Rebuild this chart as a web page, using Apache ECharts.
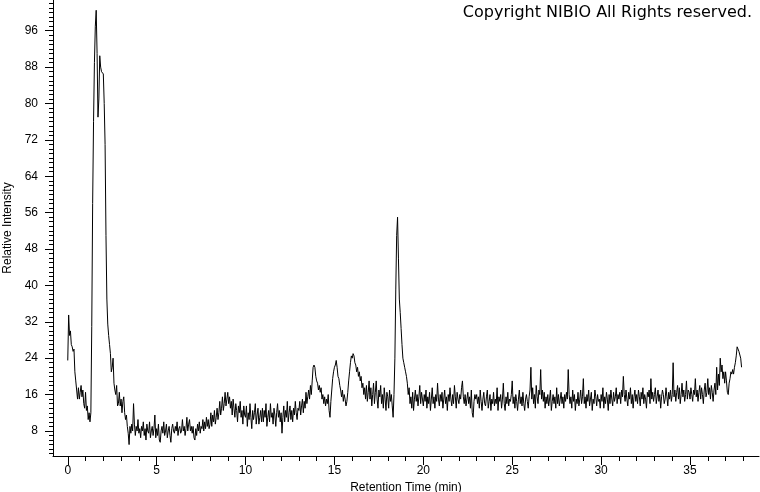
<!DOCTYPE html>
<html>
<head>
<meta charset="utf-8">
<script src="https://cdn.jsdelivr.net/npm/echarts@6.0.0/dist/echarts.min.js"></script>
<style>
html,body{margin:0;padding:0;background:#fff;}
#chart{width:760px;height:492px;}
</style>
</head>
<body>
<div id="chart"></div>
<script>
// Retention time axis: labelled ticks and minor ticks (min)
const xTickLabels = [0, 5, 10, 15, 20, 25, 30, 35];
const xMinorTicks = [0,1,2,3,4,5,6,7,8,9,10,11,12,13,14,15,16,17,18,19,20,21,22,23,24,25,26,27,28,29,30,31,32,33,34,35,36,37,38];
// Relative intensity axis: labelled ticks and minor ticks
const yTickLabels = [8, 16, 24, 32, 40, 48, 56, 64, 72, 80, 88, 96];
const yMinorTicks = [3,4,5,6,7,8,9,10,11,12,13,14,15,16,17,18,19,20,21,22,23,24,25,26,27,28,29,30,31,32,33,34,35,36,37,38,39,40,41,42,43,44,45,46,47,48,49,50,51,52,53,54,55,56,57,58,59,60,61,62,63,64,65,66,67,68,69,70,71,72,73,74,75,76,77,78,79,80,81,82,83,84,85,86,87,88,89,90,91,92,93,94,95,96,97,98,99,100,101,102];

// Sampling of the trace (min)
const sampleStart = 0;
const sampleStep = 0.05;
// Relative intensity, one row per minute (0.00 ... 0.95)
const intensity = [
  23.5, 33.5, 29, 30, 27, 26.5, 25.5, 26, 21, 19, 17, 15, 17.5, 15, 16.5, 18, 15.5, 17, 14, 13,
  16.5, 12.5, 13.5, 10.5, 12, 10, 12, 31, 58, 76, 89, 97, 100.5, 91, 77, 81, 90.5, 88, 87, 87,
  86.5, 80, 71, 51, 37, 31.5, 29, 27, 25, 21, 22, 24, 18.5, 17, 16, 18, 13.5, 14, 16.5, 13.5,
  15, 12, 14.5, 15.5, 12, 10.5, 11.5, 9, 7.5, 5, 9, 7.5, 9.5, 8, 14, 9.5, 7, 9, 8, 10.5,
  7.5, 8.5, 6.5, 9, 8, 10, 7, 8.5, 6, 9.5, 8, 7.5, 10, 6.5, 8, 9, 7, 8.5, 11.5, 6.5,
  8.5, 7, 9.5, 6, 5.5, 8, 9, 7.5, 10, 7, 8, 9.5, 6.5, 8, 9, 7, 5.5, 8.5, 9.5, 8,
  7.5, 9, 8, 10, 7, 8.5, 9, 7.5, 8, 10.5, 8, 9, 7, 8.5, 11, 8, 9.5, 10.5, 8, 9,
  7.5, 9, 6.5, 6, 8.5, 7, 9.5, 8, 10, 7.5, 9, 8.5, 10.5, 8, 10, 8.5, 11, 9, 10.5, 8.5,
  9.5, 12, 9, 11.5, 10, 12.5, 9.5, 11, 13, 10.5, 12, 14.5, 11.5, 13, 15.5, 12.5, 14, 16.5, 13.5, 15,
  16.5, 14, 15.5, 13, 14.5, 11.5, 15, 13, 11, 14, 12.5, 10, 13.5, 12, 14.5, 11, 12.5, 9.5, 13.5, 11.5,
  11, 13.5, 9, 12, 10.5, 14, 11, 8.5, 12.5, 10.5, 12, 14, 9.5, 11.5, 13, 9.5, 11, 12.5, 10, 13,
  10, 12.5, 11, 14, 9, 11, 12.5, 10, 14, 11, 12, 9.5, 13, 11.5, 9, 12, 14, 11, 12.5, 10,
  12, 7.5, 11, 13.5, 10, 12.5, 11, 14.5, 10, 12, 13.5, 10.5, 12.5, 10, 13, 11.5, 14.5, 12, 10.5, 13,
  12.5, 14.5, 11.5, 13.5, 15, 12, 14.5, 13, 16.5, 14, 15.5, 17, 15, 18, 16, 19, 22, 22.5, 22, 20,
  19, 18.5, 17, 18, 16.5, 17.5, 15, 16, 14, 15.5, 13.5, 15, 14, 16, 12.5, 11, 14.5, 17, 19.5, 21,
  22, 22.5, 23.5, 22, 20, 19.5, 18, 17, 15.5, 17, 14.5, 16, 15, 13.5, 14.5, 16.5, 19, 21, 23, 24.5,
  24, 25, 24.5, 23, 22.5, 21, 22, 20, 21, 19, 20, 17.5, 18.5, 16, 17.5, 15, 18, 14.5, 16.5, 19,
  15, 17.5, 13.5, 16, 18.5, 14, 16.5, 19, 15, 13, 17, 15.5, 18, 14, 16, 13, 17.5, 15, 12.5, 16.5,
  15.5, 13, 17, 14.5, 16, 13.5, 11, 16, 24, 39, 51, 55, 46, 37, 34, 30.5, 27, 24, 23, 22,
  21, 20, 18.5, 16, 17.5, 14, 15.5, 13, 16.5, 12.5, 15, 17, 14.5, 16, 13.5, 15.5, 18, 14, 16.5, 15,
  13.5, 16, 14.5, 17, 13, 15.5, 14, 16.5, 12.5, 15, 17.5, 14, 15.5, 13, 16, 14.5, 18.5, 15, 13.5, 16,
  14.5, 16.5, 13, 15, 17, 14, 15.5, 12.5, 16, 14.5, 17.5, 15, 13.5, 16, 14, 18, 15.5, 13, 16.5, 15,
  14, 16, 15, 17.5, 19, 15.5, 14, 16, 13.5, 15, 16.5, 14, 15.5, 13, 17, 12, 11, 14.5, 16, 15,
  16, 14, 15.5, 13, 17, 14.5, 12.5, 15, 16.5, 14, 13.5, 15.5, 17, 13, 14.5, 16, 12.5, 15, 14, 16.5,
  13.5, 15, 14, 17.5, 12.5, 15.5, 14.5, 16, 13, 15, 18.5, 14, 12.5, 15.5, 14, 16.5, 13.5, 15, 14.5, 16,
  19, 14, 15.5, 13, 16, 14.5, 12.5, 15, 17, 14, 15.5, 13.5, 16.5, 14, 12.5, 15, 16, 14.5, 13, 15.5,
  17, 22, 15, 17.5, 14, 16, 13, 18, 15.5, 14, 17, 16, 21.5, 15, 17, 14.5, 16.5, 13, 15.5, 14,
  16, 13.5, 15, 17, 12.5, 14.5, 16, 14, 15.5, 13, 17.5, 14, 16, 13.5, 15, 16.5, 14, 15.5, 13, 16,
  14.5, 16.5, 15, 21.5, 16, 14, 15.5, 13, 17, 14.5, 16, 12.5, 15, 14, 16.5, 13.5, 15, 17, 14, 15.5,
  19.5, 14, 15.5, 13, 16, 14.5, 17, 13.5, 15, 16.5, 12.5, 15, 14, 17, 15.5, 13.5, 16, 14.5, 15, 13,
  16, 14.5, 17.5, 13, 15.5, 14, 16.5, 15, 12.5, 16, 14, 17, 15, 13.5, 16.5, 14.5, 15.5, 17.5, 14, 16,
  15, 16.5, 14, 17, 15.5, 20, 16, 14.5, 17, 15, 13.5, 16.5, 15, 17.5, 14, 16, 13, 15.5, 17, 14.5,
  16, 14, 17, 15.5, 13.5, 16.5, 15, 17.5, 14, 16, 15, 13, 16.5, 15.5, 17, 14, 19.5, 15, 16.5, 14.5,
  16, 17.5, 14, 15.5, 17, 14.5, 16, 13, 15.5, 17, 16, 14, 15, 17.5, 15.5, 13.5, 16.5, 15, 17, 14.5,
  16, 23, 15.5, 17, 14.5, 16.5, 18, 15, 17.5, 14, 16, 18.5, 15.5, 17, 14.5, 16, 19, 15, 17, 16.5,
  15, 17.5, 16, 14.5, 17, 16, 19.5, 15.5, 17, 14.5, 16.5, 18, 15, 17.5, 16, 14, 17, 18.5, 15.5, 16.5,
  19.5, 16, 17.5, 15, 18, 16.5, 14.5, 17, 18.5, 16, 22, 17, 20.5, 18, 24, 21, 22.5, 19.5, 21, 18.5,
  21, 19, 16.5, 16, 18.5, 19.5, 21, 20.5, 21.5, 20.5, 22, 23, 24.5, 26.5, 26.5, 25.5, 25.5, 24, 22
];

const xMin = -0.83, xMax = 38.88;
const yMin = 2.49, yMax = 102.76;

const trace = intensity.map((v, i) => [+(sampleStart + i * sampleStep).toFixed(2), v]);

const chart = echarts.init(document.getElementById('chart'), null, {renderer: 'canvas'});
const black = '#000';
const labelFont = {color: black, fontFamily: 'Liberation Sans, Arial, sans-serif', fontSize: 12};

chart.setOption({
  animation: false,
  backgroundColor: '#fff',
  grid: {left: 53, right: 1, top: 0, bottom: 36, containLabel: false, outerBoundsMode: 'none'},
  xAxis: [
    {
      type: 'value', min: xMin, max: xMax, position: 'bottom',
      axisLine: {show: true, onZero: false, lineStyle: {color: black, width: 1}},
      axisTick: {show: true, length: 9, customValues: xTickLabels, lineStyle: {color: black, width: 1}},
      axisLabel: Object.assign({show: true, margin: 9, customValues: xTickLabels}, labelFont),
      splitLine: {show: false},
      name: 'Retention Time (min)', nameLocation: 'middle', nameGap: 22,
      nameTextStyle: labelFont
    },
    {
      type: 'value', min: xMin, max: xMax, position: 'bottom', gridIndex: 0,
      axisLine: {show: false, onZero: false},
      axisTick: {show: true, length: 5, customValues: xMinorTicks, lineStyle: {color: black, width: 1}},
      axisLabel: {show: false},
      splitLine: {show: false}
    }
  ],
  yAxis: [
    {
      type: 'value', min: yMin, max: yMax, position: 'left',
      axisLine: {show: true, onZero: false, lineStyle: {color: black, width: 1}},
      axisTick: {show: true, length: 8, customValues: yTickLabels, lineStyle: {color: black, width: 1}},
      axisLabel: Object.assign({show: true, margin: 15, customValues: yTickLabels}, labelFont),
      splitLine: {show: false},
      name: 'Relative Intensity', nameLocation: 'middle', nameGap: 35, nameRotate: 90,
      nameTextStyle: labelFont
    },
    {
      type: 'value', min: yMin, max: yMax, position: 'left', gridIndex: 0,
      axisLine: {show: false, onZero: false},
      axisTick: {show: true, length: 4, customValues: yMinorTicks, lineStyle: {color: black, width: 1}},
      axisLabel: {show: false},
      splitLine: {show: false}
    }
  ],
  graphic: [{
    type: 'text', right: 8, top: 5,
    style: {text: 'Copyright NIBIO All Rights reserved.', fill: black,
            font: '16px "DejaVu Sans", sans-serif'}
  }],
  series: [{
    type: 'line', xAxisIndex: 0, yAxisIndex: 0,
    data: trace, symbol: 'none', showSymbol: false, smooth: false,
    lineStyle: {color: black, width: 1}, silent: true
  }]
});
</script>
</body>
</html>
